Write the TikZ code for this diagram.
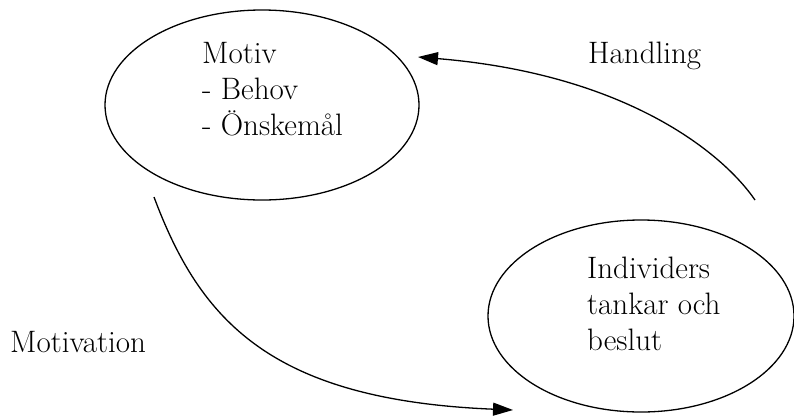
\documentclass[tikz,border=0pt]{standalone}
\usepackage{fontspec}
\usetikzlibrary{shapes.geometric,arrows.meta}
\begin{document}
\begin{tikzpicture}[x=1pt,y=-1pt,
  oval/.style={draw,ellipse,line width=1.3pt,inner sep=0pt},
  lbl/.style={anchor=base west,inner sep=0pt,align=left,font=\fontsize{31}{36}\selectfont},
  conn/.style={line width=1.3pt,-{Triangle[length=20pt,width=13pt]}}]
\useasboundingbox (0,0) rectangle (794,418);
\node[oval,minimum width=314pt,minimum height=190pt] (motiv) at (262,105) {};
\node[oval,minimum width=306pt,minimum height=192pt] (indiv) at (641,316) {};
\node[lbl] (tmotiv) at (202,135) {Motiv\\- Behov\\- Önskemål};
\node[lbl] (tindiv) at (587,350) {Individers\\tankar och\\beslut};
\node[lbl] (thand) at (588,63) {Handling};
\node[lbl] (tmot) at (10,352) {Motivation};
\coordinate (h0) at (755,200);
\coordinate (h1) at (418,57);
\coordinate (m0) at (154,197);
\coordinate (m1) at (513,410);
\draw[conn] (h0) .. controls (722,152) and (625,74) .. (h1);
\draw[conn] (m0) .. controls (200,320) and (270,400) .. (m1);
\end{tikzpicture}
\end{document}
